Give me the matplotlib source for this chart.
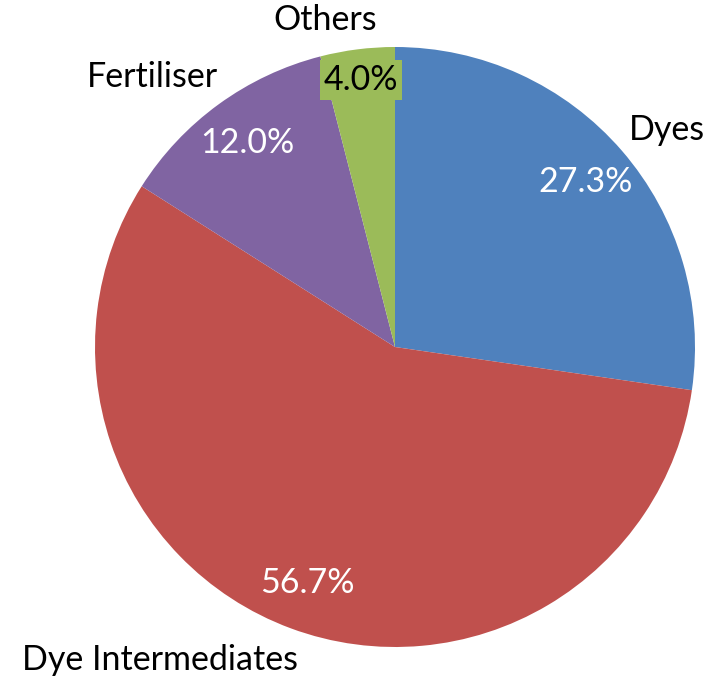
import matplotlib.pyplot as plt

labels = ["Dyes", "Dye Intermediates", "Fertiliser", "Others"]
shares = [27.3, 56.7, 12.0, 4.0]
colors = ["#4F81BD", "#C0504D", "#8064A2", "#9BBB59"]

plt.rcParams["font.family"] = ["Lato", "DejaVu Sans"]

fig = plt.figure(figsize=(7.12, 6.82), dpi=100)
ax = fig.add_axes([95 / 712, 35 / 682, 600 / 712, 600 / 682])

wedges, texts, autotexts = ax.pie(
    shares, labels=labels, colors=colors, startangle=90, counterclock=False,
    autopct="%1.1f%%", pctdistance=0.84, labeldistance=1.16,
    textprops={"fontsize": 24.5}, wedgeprops={"linewidth": 0},
)
ax.set_xlim(-1, 1)
ax.set_ylim(-1, 1)

# label spots tweaked by hand to sit like the original
label_pos = [(0.907, 0.723), (-0.783, -1.043), (-0.807, 0.90), (-0.233, 1.09)]
for t, p in zip(texts, label_pos):
    t.set_position(p)
    t.set_ha("center")
    t.set_va("center")
    t.set_color("black")

for t in autotexts:
    t.set_color("white")
    t.set_fontsize(24.5)
autotexts[3].set_color("black")
autotexts[3].set_position((-0.113, 0.89))
autotexts[3].set_bbox(dict(facecolor=colors[3], edgecolor="none", pad=3))

fig.savefig("out.png", dpi=100)
